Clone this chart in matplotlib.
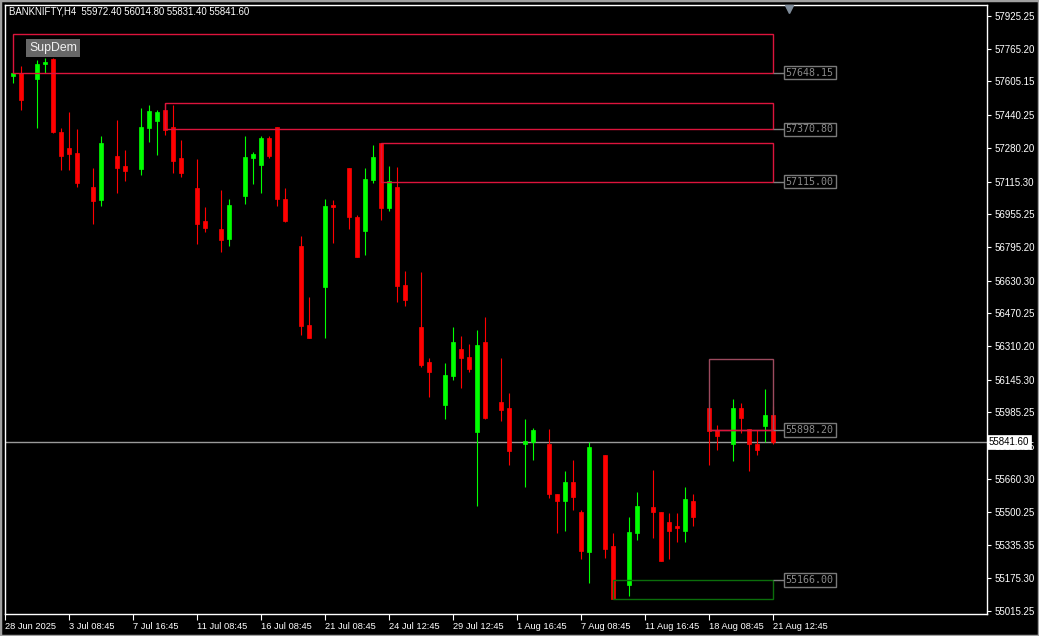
import matplotlib
matplotlib.use("Agg")
import matplotlib.pyplot as plt
import matplotlib.transforms as mtransforms
from matplotlib.patches import Rectangle

# bar slot on the time axis (8 px per slot in MT4), empty slots are skipped bars
slots = [1, 2, 4, 5, 6, 7, 8, 9, 11, 12, 14, 15, 17, 18, 19, 20, 21, 22, 24, 25,
         27, 28, 30, 31, 32, 33, 34, 35, 37, 38, 40, 41, 43, 44, 45, 46, 47, 48, 49, 50,
         52, 53, 55, 56, 57, 58, 59, 60, 62, 63, 65, 66, 68, 69, 70, 71, 72, 73, 75, 76,
         78, 79, 81, 82, 83, 84, 85, 86, 88, 89, 91, 92, 93, 94, 95, 96]
opens = [57633, 57645, 57617, 57692, 57715, 57359, 57279, 57255, 57089, 57025, 57240, 57191,
         57177, 57377, 57411, 57465, 57382, 57230, 57084, 56922, 56883, 56834, 57045, 57230,
         57196, 57328, 57382, 57030, 56800, 56413, 56599, 57000, 57181, 56942, 56873, 57123,
         57304, 56986, 57089, 56609, 56404, 56232, 56022, 56164, 56296, 56257, 55890, 56330,
         56037, 56007, 55831, 55841, 55831, 55586, 55552, 55645, 55498, 55302, 55777, 55332,
         55141, 55396, 55523, 55498, 55449, 55430, 55405, 55552, 56007, 55900, 55831, 56007,
         55904, 55831, 55919, 55972.40]
highs = [57652, 57681, 57710, 57720, 57720, 57377, 57456, 57372, 57181, 57338, 57416, 57270,
         57475, 57490, 57465, 57500, 57490, 57319, 57225, 56991, 57074, 57030, 57338, 57260,
         57338, 57338, 57382, 57084, 56849, 56550, 57030, 57025, 57181, 56952, 57181, 57294,
         57304, 57191, 57186, 56678, 56673, 56252, 56227, 56404, 56359, 56320, 56389, 56452,
         56252, 56081, 55953, 55909, 55904, 55586, 55699, 55753, 55508, 55841, 55777, 55396,
         55474, 55596, 55704, 55498, 55493, 55493, 55621, 55586, 56007, 55924, 56051, 56032,
         55904, 55900, 56100, 56014.80]
lows = [57597, 57465, 57377, 57646, 57353, 57172, 57172, 57089, 56907, 56996, 57059, 57118,
        57147, 57309, 57245, 57343, 57157, 57137, 56810, 56868, 56770, 56800, 57005, 57103,
        57059, 57230, 56996, 56917, 56364, 56350, 56350, 56815, 56883, 56746, 56756, 57108,
        56927, 56971, 56526, 56506, 56208, 56061, 55953, 56144, 56105, 56183, 55528, 55953,
        55944, 55728, 55621, 55753, 55567, 55395, 55405, 55508, 55268, 55151, 55273, 55073,
        55087, 55361, 55371, 55259, 55268, 55351, 55351, 55430, 55728, 55802, 55748, 55885,
        55699, 55777, 55841, 55831.40]
closes = [57648, 57514, 57690, 57702, 57359, 57240, 57250, 57108, 57020, 57304, 57181, 57167,
          57382, 57460, 57455, 57367, 57216, 57157, 56907, 56888, 56829, 57000, 57235, 57250,
          57328, 57240, 57030, 56922, 56408, 56350, 56996, 56991, 56942, 56746, 57128, 57235,
          56986, 57118, 56604, 56536, 56218, 56183, 56169, 56330, 56252, 56198, 56315, 55958,
          55997, 55797, 55846, 55900, 55586, 55552, 55645, 55572, 55307, 55816, 55317, 55073,
          55401, 55528, 55498, 55259, 55405, 55420, 55562, 55474, 55895, 55870, 56007, 55958,
          55831, 55802, 55973, 55841.60]

# supply / demand zones
zone_start = [1, 20, 47, 88, 76]
zone_top = [57837, 57500, 57304, 56247, 55166.00]
zone_bottom = [57648.15, 57370.80, 57115.00, 55898.20, 55073]
zone_level = [57648.15, 57370.80, 57115.00, 55898.20, 55166.00]
zone_kind = ["supply", "supply", "supply", "supply_near", "demand"]
zone_end = 96

ytick_vals = [57925.25, 57765.20, 57605.15, 57440.25, 57280.20, 57115.30, 56955.25,
              56795.20, 56630.30, 56470.25, 56310.20, 56145.30, 55985.25, 55820.35,
              55660.30, 55500.25, 55335.35, 55175.30, 55015.25]
xtick_slots = [0, 8, 16, 24, 32, 40, 48, 56, 64, 72, 80, 88, 96]
xtick_labels = ["28 Jun 2025", "3 Jul 08:45", "7 Jul 16:45", "11 Jul 08:45", "16 Jul 08:45",
                "21 Jul 08:45", "24 Jul 12:45", "29 Jul 12:45", "1 Aug 16:45", "7 Aug 08:45",
                "11 Aug 16:45", "18 Aug 08:45", "21 Aug 12:45"]
bid = 55841.60
header = "BANKNIFTY,H4  55972.40 56014.80 55831.40 55841.60"

plt.rcParams['font.family'] = ['Liberation Sans', 'DejaVu Sans']

W, H = 1039, 636
fig = plt.figure(figsize=(W / 100, H / 100), dpi=100, facecolor="black")
ax_l, ax_r, ax_t, ax_b = 4.5, 986.5, 4.5, 613.5
ax = fig.add_axes([ax_l / W, 1 - ax_b / H, (ax_r - ax_l) / W, (ax_b - ax_t) / H])
ax.set_facecolor("black")
ax.set_xlim(-0.06, 122.7)
ax.set_ylim(55001.6, 57981.5)

# candles
for s, o, h, l, c in zip(slots, opens, highs, lows, closes):
    col = "#00ff00" if c >= o else "#ff0000"
    ax.vlines(s, l, h, color=col, lw=0.8, zorder=3)
    ax.bar(s, abs(c - o), bottom=min(o, c), width=0.58, color=col,
           edgecolor=col, lw=0.5, zorder=4)

# zones
for x0, top, bot, lev, kind in zip(zone_start, zone_top, zone_bottom, zone_level, zone_kind):
    if kind == "demand":
        ec = "#0b6e0b"
    elif kind == "supply_near":
        ec = "#9c4a5e"
    else:
        ec = "#dc143c"
    ax.add_patch(Rectangle((x0, bot), zone_end - x0, top - bot, fill=False,
                           ec=ec, lw=1.0, zorder=5))
    if kind == "supply_near":
        ax.hlines(bot, x0, zone_end, color="#dc143c", lw=1.0, zorder=6)
    ax.hlines(lev, zone_end, 97.45, color="#808080", lw=1.0, zorder=5)
    ax.text(97.6, lev, f"{lev:.2f}", family="DejaVu Sans Mono", fontsize=7.2,
            color="#8a8a8a", ha="left", va="center", zorder=7,
            bbox=dict(boxstyle="square,pad=0.18", fc="black", ec="#7a7a7a", lw=1.0))

# bid line and its price tag on the axis
ax.axhline(bid, color="#9a9a9a", lw=1.0, zorder=2)
ytrans = mtransforms.blended_transform_factory(ax.transAxes, ax.transData)
ax.text(1.0025, bid, f"{bid:.2f}", transform=ytrans, fontsize=7, color="black",
        ha="left", va="center", clip_on=False, zorder=10,
        bbox=dict(boxstyle="square,pad=0.2", fc="white", ec="white", lw=0.5))

# chart shift marker
xtrans = mtransforms.blended_transform_factory(ax.transData, ax.transAxes)
ax.plot([98.0], [0.992], marker="v", ms=6, color="#7f8c9a", transform=xtrans,
        clip_on=False, zorder=9)

# axes styling
for sp in ax.spines.values():
    sp.set_color("white")
    sp.set_linewidth(1.0)
ax.yaxis.tick_right()
ax.set_yticks(ytick_vals)
ax.set_yticklabels([f"{v:.2f}" for v in ytick_vals])
ax.set_xticks(xtick_slots)
ax.set_xticklabels(xtick_labels, ha="left")
ax.tick_params(axis="y", colors="white", labelsize=7, length=3, width=0.8, pad=2.5)
ax.tick_params(axis="x", colors="white", labelsize=6.7, length=4, width=0.8, pad=2)

ax.text((9 - ax_l) / (ax_r - ax_l), 1 - (12 - ax_t) / (ax_b - ax_t), header,
        transform=ax.transAxes, fontsize=6.9, color="white", ha="left", va="center", zorder=9)
ax.text((29 - ax_l) / (ax_r - ax_l), 1 - (48 - ax_t) / (ax_b - ax_t), "SupDem",
        transform=ax.transAxes, fontsize=8.8, color="#f0f0f0", ha="left", va="center", zorder=9,
        bbox=dict(boxstyle="square,pad=0.22", fc="#676767", ec="#676767", lw=0))

# window frame
fig.patches.append(Rectangle((0, 0), 1, 1, transform=fig.transFigure, fill=False,
                             ec="#a0a0a0", lw=2.5, zorder=20))

fig.savefig("out.png", dpi=100, facecolor="black")
